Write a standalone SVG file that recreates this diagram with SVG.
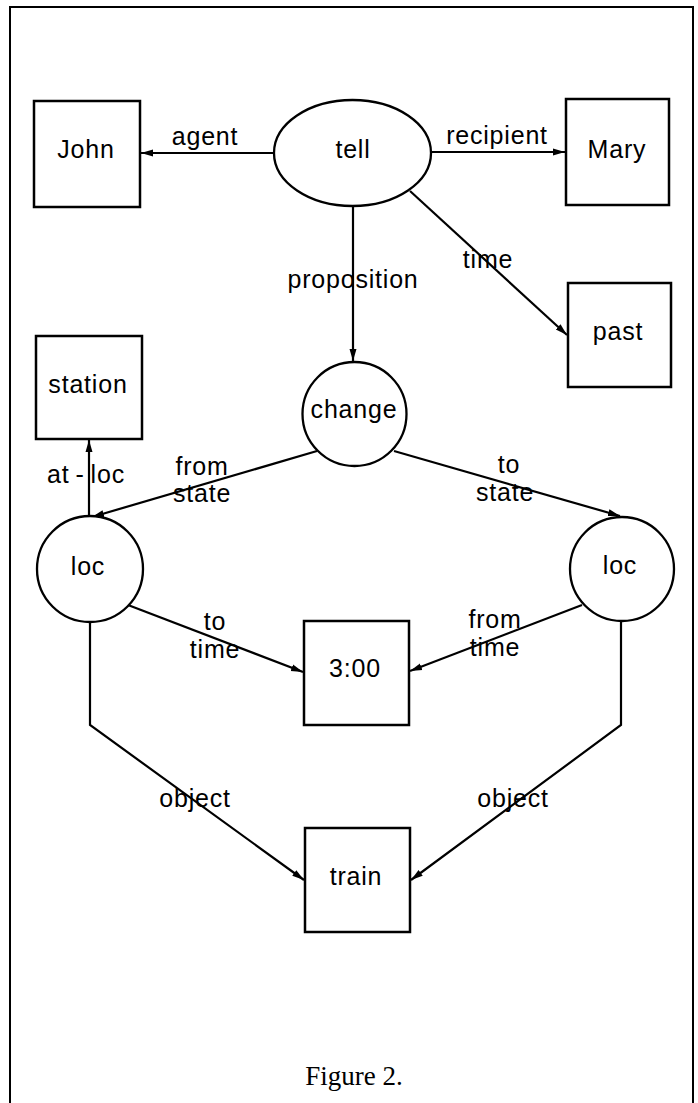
<svg xmlns="http://www.w3.org/2000/svg" width="698" height="1103" viewBox="0 0 698 1103">
<defs>
<style>
.bg{fill:#fff}
.frame{fill:none;stroke:#000;stroke-width:2}
.box{fill:#fff;stroke:#000;stroke-width:2.5}
.node{fill:#fff;stroke:#000;stroke-width:2.3}
.edge{fill:none;stroke:#000;stroke-width:2.2}
.lbl{font-family:"Liberation Sans","DejaVu Sans",sans-serif;font-size:25px;letter-spacing:0.8px;fill:#000;text-anchor:middle}
.cap{font-family:"Liberation Serif","DejaVu Serif",serif;font-size:27px;fill:#000;text-anchor:middle}
</style>
<marker id="ah" markerUnits="userSpaceOnUse" markerWidth="13" markerHeight="9" refX="12" refY="4.5" orient="auto">
<path d="M0,1 L12,4.5 L0,8 z" fill="#000"/>
</marker>
</defs>
<rect class="bg" x="0" y="0" width="698" height="1103"/>
<path class="frame" d="M10,1110 V7 H693 V1110"/>

<g id="connectors">
<line class="edge" x1="274" y1="153" x2="141" y2="153" marker-end="url(#ah)"/>
<line class="edge" x1="431" y1="152" x2="565" y2="152" marker-end="url(#ah)"/>
<line class="edge" x1="410" y1="191" x2="567" y2="335" marker-end="url(#ah)"/>
<line class="edge" x1="353" y1="206" x2="353" y2="361" marker-end="url(#ah)"/>
<line class="edge" x1="317" y1="451" x2="92" y2="517" marker-end="url(#ah)"/>
<line class="edge" x1="394" y1="451" x2="620" y2="516" marker-end="url(#ah)"/>
<line class="edge" x1="89" y1="516" x2="89" y2="440" marker-end="url(#ah)"/>
<line class="edge" x1="128" y1="605" x2="303" y2="672" marker-end="url(#ah)"/>
<line class="edge" x1="582" y1="605" x2="410" y2="671" marker-end="url(#ah)"/>
<polyline class="edge" points="90,622 90,725 304,880" marker-end="url(#ah)"/>
<polyline class="edge" points="621,622 621,725 411,880" marker-end="url(#ah)"/>
<text class="lbl" x="205" y="145">agent</text>
<text class="lbl" x="497" y="144">recipient</text>
<text class="lbl" x="488" y="268">time</text>
<text class="lbl" x="353" y="288">proposition</text>
<text class="lbl" x="47" y="483" style="text-anchor:start">at<tspan dx="6">-</tspan><tspan dx="6">loc</tspan></text>
<text class="lbl" x="202" y="475">from</text>
<text class="lbl" x="202" y="502">state</text>
<text class="lbl" x="509" y="473">to</text>
<text class="lbl" x="505" y="501">state</text>
<text class="lbl" x="215" y="630">to</text>
<text class="lbl" x="215" y="658">time</text>
<text class="lbl" x="495" y="628">from</text>
<text class="lbl" x="495" y="656">time</text>
<text class="lbl" x="195" y="807">object</text>
<text class="lbl" x="513" y="807">object</text>
</g>

<g id="john"><rect class="box" x="34" y="101" width="106" height="106"/><text class="lbl" x="86" y="158">John</text></g>
<g id="tell"><ellipse class="node" cx="352.5" cy="153" rx="78.5" ry="53"/><text class="lbl" x="353" y="158">tell</text></g>
<g id="mary"><rect class="box" x="566" y="99" width="103" height="106"/><text class="lbl" x="617" y="158">Mary</text></g>
<g id="past"><rect class="box" x="568" y="283" width="103" height="104"/><text class="lbl" x="618" y="340">past</text></g>
<g id="station"><rect class="box" x="36" y="336" width="106" height="103"/><text class="lbl" x="88" y="393">station</text></g>
<g id="change"><circle class="node" cx="354.5" cy="414" r="52"/><text class="lbl" x="354" y="418">change</text></g>
<g id="loc-left"><circle class="node" cx="90" cy="569" r="53"/><text class="lbl" x="88" y="575">loc</text></g>
<g id="loc-right"><circle class="node" cx="622" cy="569" r="52"/><text class="lbl" x="620" y="574">loc</text></g>
<g id="time-300"><rect class="box" x="304" y="621" width="105" height="104"/><text class="lbl" x="355" y="677">3:00</text></g>
<g id="train"><rect class="box" x="305" y="828" width="105" height="104"/><text class="lbl" x="356" y="885">train</text></g>

<text class="cap" x="354" y="1085">Figure 2.</text>
</svg>
